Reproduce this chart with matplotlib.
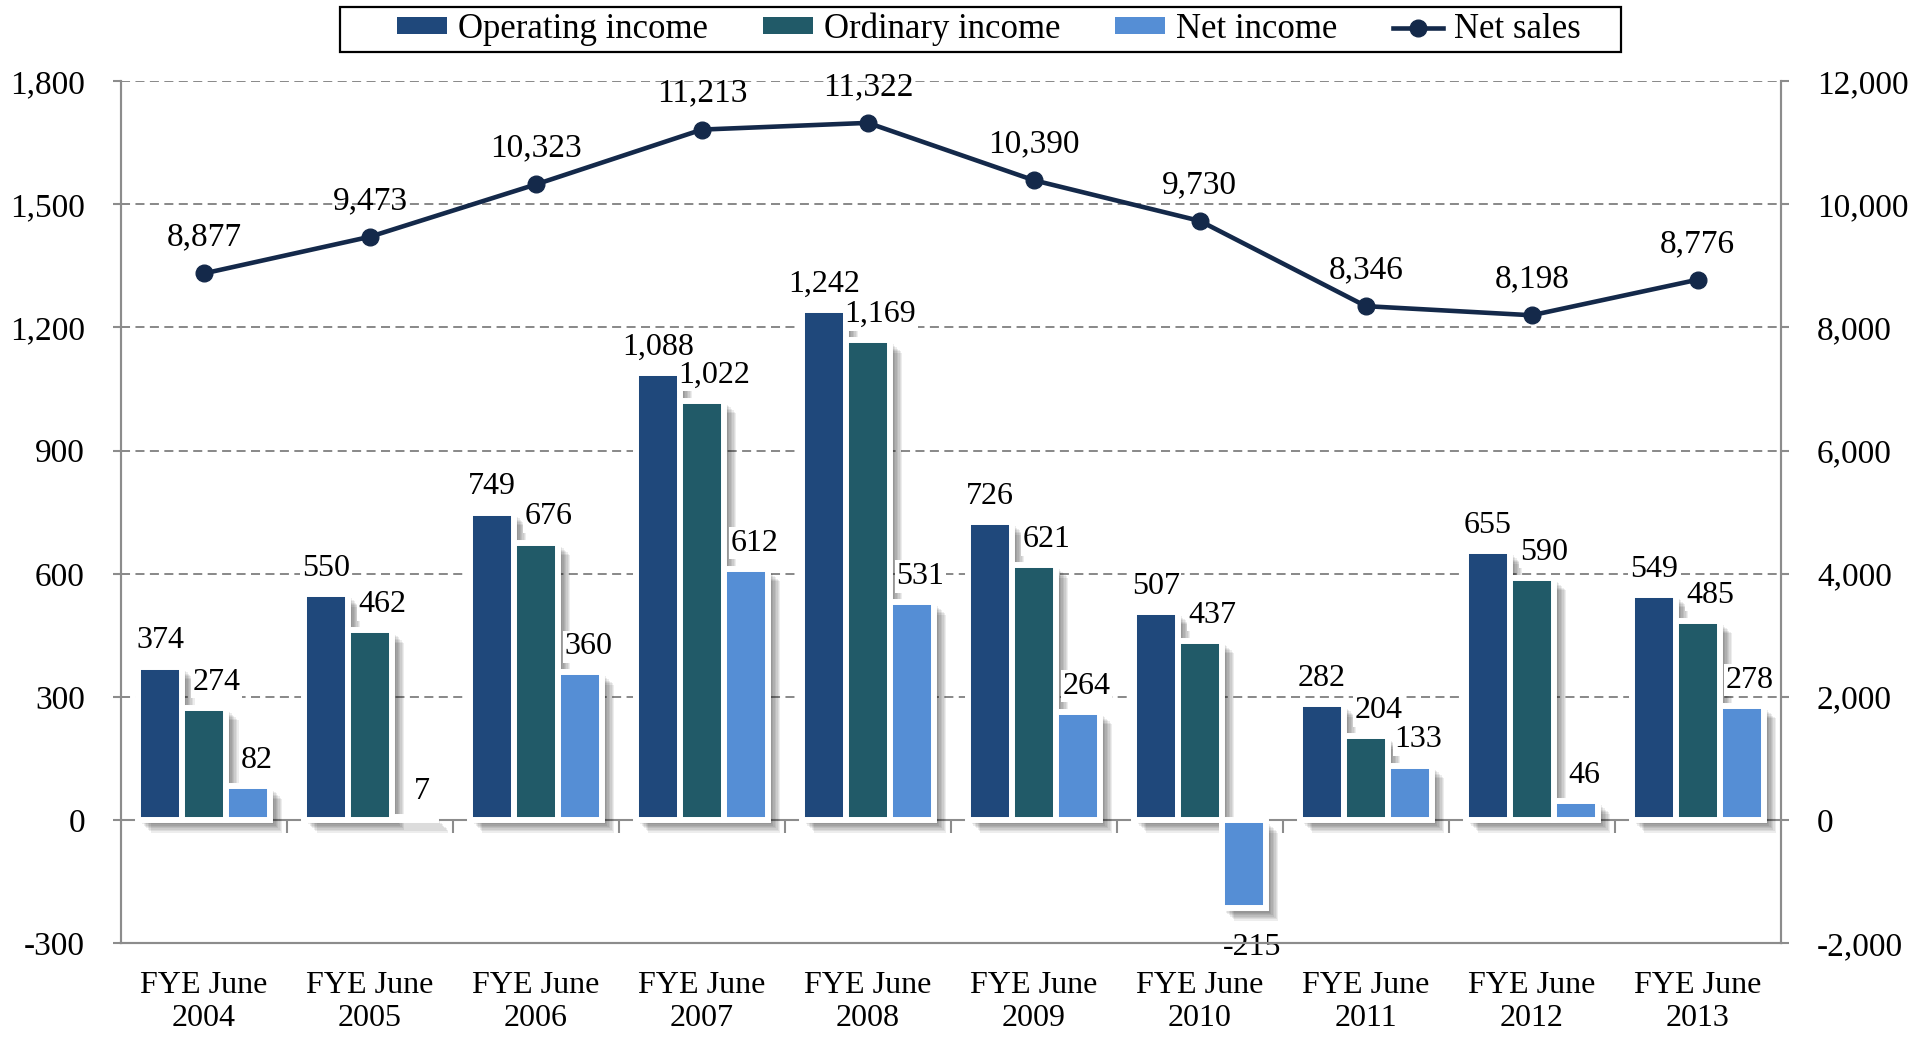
import numpy as np
import matplotlib.pyplot as plt
import matplotlib.patheffects as pe
from matplotlib.patches import Rectangle
from matplotlib.ticker import FuncFormatter

# Datos
years = ['2004', '2005', '2006', '2007', '2008', '2009', '2010', '2011', '2012', '2013']
operating_income = [374, 550, 749, 1088, 1242, 726, 507, 282, 655, 549]
ordinary_income = [274, 462, 676, 1022, 1169, 621, 437, 204, 590, 485]
net_income = [82, 7, 360, 612, 531, 264, -215, 133, 46, 278]
net_sales = [8877, 9473, 10323, 11213, 11322, 10390, 9730, 8346, 8198, 8776]

c_op = '#1F487B'
c_ord = '#215A68'
c_net = '#558ED5'
c_sales = '#14294A'
grey = '#8C8C8C'

plt.rcParams['font.family'] = ['Liberation Serif', 'DejaVu Serif']
fs = 23

fig = plt.figure(figsize=(19.21, 10.40), dpi=100)
fig.subplots_adjust(left=0.063, right=0.927, top=0.922, bottom=0.093)
ax = fig.add_subplot(111)
ax2 = ax.twinx()

x = np.arange(len(years))
w = 0.265

# sombra difusa
shadow = [pe.SimplePatchShadow(offset=(d, -d), shadow_rgbFace='black', alpha=0.07)
          for d in (9, 8, 7, 6, 5, 4, 3)] + [pe.Normal()]

series = [(operating_income, c_op, 'Operating income', -w, 0),
          (ordinary_income, c_ord, 'Ordinary income', 0, 9),
          (net_income, c_net, 'Net income', w, 6)]

for vals, col, name, off, dx in series:
    bars = ax.bar(x + off, vals, w, color=col, edgecolor='white', linewidth=4.3,
                  label=name, zorder=2)
    for b in bars:
        b.set_path_effects(shadow)
    for xi, v in zip(x + off, vals):
        if v >= 0:
            ax.annotate(f'{v:,}', (xi, v), xytext=(dx, 8), textcoords='offset points',
                        ha='center', va='bottom', fontsize=fs, zorder=5,
                        bbox=dict(boxstyle='square,pad=0.05', fc='white', ec='none'))
        else:
            ax.annotate(f'{v:,}', (xi, v), xytext=(dx, -18), textcoords='offset points',
                        ha='center', va='top', fontsize=fs, zorder=5)

# ejes
ax.set_xlim(-0.5, len(years) - 0.5)
ax.set_ylim(-300, 1800)
ax.set_yticks(np.arange(-300, 1801, 300))
ax2.set_ylim(-2000, 12000)
ax2.set_yticks(np.arange(-2000, 12001, 2000))
fmt = FuncFormatter(lambda v, p: f'{v:,.0f}')
ax.yaxis.set_major_formatter(fmt)
ax2.yaxis.set_major_formatter(fmt)

ax.set_xticks(x)
ax.set_xticklabels([f'FYE June\n{y}' for y in years], fontsize=fs, linespacing=1.2)
ax.tick_params(axis='x', length=0, pad=20)
ax.tick_params(axis='y', labelsize=24, color=grey, length=6, width=1.5, pad=20)
ax2.tick_params(axis='y', labelsize=24, color=grey, length=6, width=1.5, pad=20)

for a in (ax, ax2):
    a.spines['top'].set_visible(False)
    for s in ('left', 'right', 'bottom'):
        a.spines[s].set_color(grey)
        a.spines[s].set_linewidth(1.5)

ax.set_axisbelow(True)
for v in np.arange(300, 1801, 300):
    ax.axhline(v, color='#7F7F7F', lw=1.3, ls=(0, (5, 3)), zorder=0)
ax.axhline(0, color=grey, lw=1.5, zorder=1)
ax.plot(np.arange(0.5, len(years) - 1, 1.0), np.zeros(len(years) - 1), ls='none',
        marker=3, markersize=9, markeredgewidth=1.5, color=grey, zorder=1)

# ventas netas
ax2.plot(x, net_sales, color=c_sales, lw=3.3, marker='o', markersize=12,
         label='Net sales', zorder=4)
for xi, v in zip(x, net_sales):
    ax2.annotate(f'{v:,}', (xi, v), xytext=(0, 15), textcoords='offset points',
                 ha='center', va='bottom', fontsize=24)

# leyenda
h1, l1 = ax.get_legend_handles_labels()
h2, l2 = ax2.get_legend_handles_labels()
leg = fig.legend(h1 + h2, l1 + l2, loc='center', bbox_to_anchor=(0.5146, 0.9716),
                 ncol=4, fontsize=25, frameon=False, handlelength=1.44,
                 handleheight=0.37, borderpad=0, columnspacing=1.58,
                 handletextpad=0.32)
for h in leg.legend_handles[:3]:
    h.set_edgecolor('none')
    h.set_path_effects([])
fig.add_artist(Rectangle((340 / 1921, 1 - 52 / 1040), 1281 / 1921, 45 / 1040,
                         transform=fig.transFigure, fill=False, ec='black', lw=1.6))

fig.savefig('out.png', dpi=100)
